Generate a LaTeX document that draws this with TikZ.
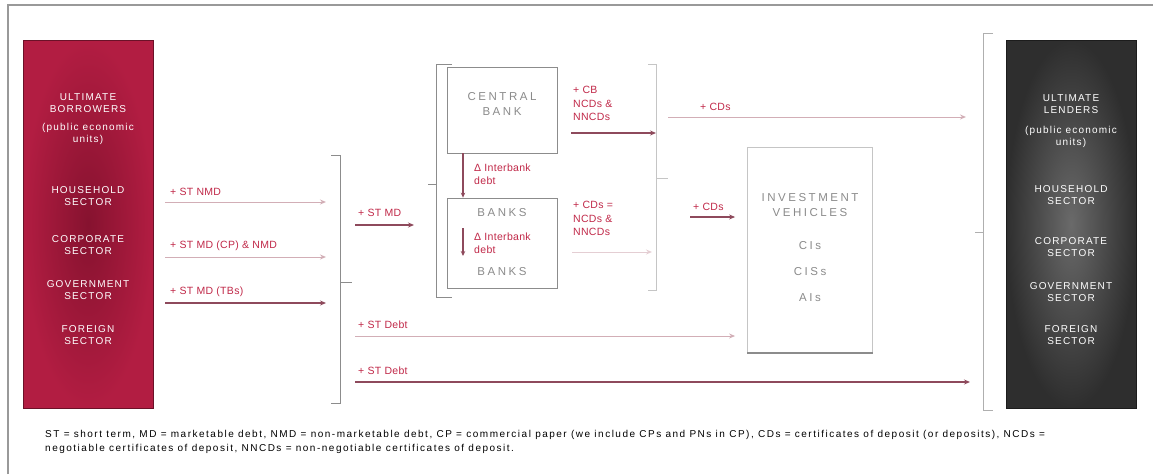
\documentclass[tikz,border=0pt]{standalone}
\usepackage{fontspec}
\setmainfont{Liberation Sans}
\usetikzlibrary{arrows.meta}
\definecolor{crimO}{HTML}{B21D42}
\definecolor{crimI}{HTML}{86122F}
\definecolor{grayO}{HTML}{2E2E2E}
\definecolor{grayI}{HTML}{6A6A6A}
\definecolor{flow}{HTML}{8E4A5C}
\definecolor{flowlt}{HTML}{D2AEB6}
\definecolor{lab}{HTML}{C02848}
\definecolor{boxtxt}{HTML}{8A8A8A}
\definecolor{brk}{HTML}{8C8C8C}
\tikzset{
  sectorbox/.style={draw=#1!60!black, line width=1pt, minimum width=130, minimum height=368, inner sep=0pt},
  white txt/.style={text=white, font=\fontsize{10}{11.5}\selectfont\addfontfeatures{LetterSpace=12}, align=center, inner sep=0pt},
  instbox/.style={draw=brk, line width=0.8pt, minimum width=110, minimum height=88, inner sep=0pt},
  graytxt/.style={text=boxtxt, font=\fontsize{11.5}{14.5}\selectfont\addfontfeatures{LetterSpace=22}, align=center, inner sep=0pt},
  labtxt/.style={text=lab, font=\fontsize{10.5}{13.5}\selectfont\addfontfeatures{LetterSpace=3}, align=left, inner sep=0pt, anchor=south west},
  flowarrow/.style={draw=flow, line width=1.3pt, -{Stealth[length=6pt,width=5pt]}},
  lightarrow/.style={draw=flowlt, line width=1pt, -{Stealth[length=6pt,width=5pt,open]}},
  bracket/.style={draw=brk, line width=1pt},
  smallarrow/.style={draw=flow, line width=1.2pt, -{Stealth[length=5pt,width=4.5pt]}}
}
\begin{document}
\begin{tikzpicture}[x=1pt,y=-1pt]
\useasboundingbox (0,0) rectangle (1153,474);
% frame
\draw[draw=gray!80, line width=1.2pt] (8,474) -- (8,5) -- (1153,5);

% left sector box
\node[sectorbox=crimO, inner color=crimI, outer color=crimO] (left) at (88,224) {};
\node[white txt] (l1) at (88,103) {ULTIMATE\\BORROWERS};
\node[white txt] (l2) at (88,134) {(public economic\\units)};
\node[white txt] (l3) at (88,196) {HOUSEHOLD\\SECTOR};
\node[white txt] (l4) at (88,245) {CORPORATE\\SECTOR};
\node[white txt] (l5) at (88,290) {GOVERNMENT\\SECTOR};
\node[white txt] (l6) at (88,335) {FOREIGN\\SECTOR};

% right sector box
\node[sectorbox=grayO, inner color=grayI, outer color=grayO] (right) at (1071,224) {};
\node[white txt] (r1) at (1071,104) {ULTIMATE\\LENDERS};
\node[white txt] (r2) at (1071,137) {(public economic\\units)};
\node[white txt] (r3) at (1071,195) {HOUSEHOLD\\SECTOR};
\node[white txt] (r4) at (1071,247) {CORPORATE\\SECTOR};
\node[white txt] (r5) at (1071,292) {GOVERNMENT\\SECTOR};
\node[white txt] (r6) at (1071,335) {FOREIGN\\SECTOR};

% left-hand flows
\coordinate (a1s) at (165,202); \coordinate (a1e) at (326,202);
\coordinate (a2s) at (165,257); \coordinate (a2e) at (326,257);
\coordinate (a3s) at (165,303); \coordinate (a3e) at (326,303);
\draw[lightarrow] (a1s) -- (a1e);
\draw[lightarrow] (a2s) -- (a2e);
\draw[flowarrow] (a3s) -- (a3e);
\node[labtxt] (t1) at (170,196) {+ ST NMD};
\node[labtxt] (t2) at (170,251) {+ ST MD (CP) \& NMD};
\node[labtxt] (t3) at (170,297) {+ ST MD (TBs)};

% left bracket
\draw[bracket] (331,155) -- (340,155) -- (340,403) -- (331,403);
\draw[bracket] (340,282) -- (352,282);

% + ST MD into banking group
\coordinate (bms) at (355,225); \coordinate (bme) at (414,225);
\draw[flowarrow] (bms) -- (bme);
\node[labtxt] (t4) at (358,217) {+ ST MD};

% banking group bracket
\draw[bracket] (452,64) -- (436,64) -- (436,297) -- (452,297);
\draw[bracket] (436,184) -- (428,184);
\draw[bracket, draw=brk!50] (648,64) -- (656,64) -- (656,290) -- (648,290);
\draw[bracket, draw=brk!50] (656,178) -- (668,178);

% central bank and banks
\node[instbox, minimum height=86] (cb) at (502,110) {};
\node[graytxt] (cbt) at (502,104) {CENTRAL\\BANK};
\node[instbox, minimum height=90] (bk) at (502,243) {};
\node[graytxt] (bk1) at (502,213) {BANKS};
\node[graytxt] (bk2) at (502,272) {BANKS};
\draw[smallarrow] (cb.south -| 463,0) -- (bk.north -| 463,0);
\node[labtxt, anchor=west, align=left] (ib1) at (474,174) {Δ Interbank\\debt};
\draw[smallarrow] (463,228) -- (463,256);
\node[labtxt, anchor=west, align=left] (ib2) at (474,243) {Δ Interbank\\debt};

% CB to right
\coordinate (cbe) at (656,133);
\draw[flowarrow] (cb.east |- cbe) ++(14,0) -- (cbe);
\node[labtxt, anchor=north west] (t5) at (573,86) {+ CB\\NCDs \&\\NNCDs};
% Banks to right
\coordinate (bks) at (572,252); \coordinate (bke) at (652,252);
\draw[lightarrow, draw=flowlt!60] (bks) -- (bke);
\node[labtxt, anchor=north west] (t6) at (573,201) {+ CDs =\\NCDs \&\\NNCDs};

% + CDs long line
\coordinate (cds) at (668,117); \coordinate (cde) at (966,117);
\draw[lightarrow] (cds) -- (cde);
\node[labtxt] (t7) at (700,111) {+ CDs};

% investment vehicles
\node[draw=brk!50, line width=0.8pt, minimum width=125, minimum height=205, inner sep=0pt] (iv) at (810,250) {};
\draw[draw=brk, line width=1.5pt] (iv.south west) -- (iv.south east);
\node[graytxt] (ivt) at (810,205) {INVESTMENT\\VEHICLES};
\node[graytxt] (iv1) at (810,246) {CIs};
\node[graytxt] (iv2) at (810,272) {CISs};
\node[graytxt] (iv3) at (810,298) {AIs};
\coordinate (ivs) at (690,217);
\draw[flowarrow] (ivs) -- ([xshift=-12pt]iv.west |- ivs);
\node[labtxt] (t8) at (693,211) {+ CDs};

% ST Debt lines
\coordinate (sd1s) at (355,336);
\draw[lightarrow] (sd1s) -- ([xshift=-12pt]iv.west |- sd1s);
\node[labtxt] (t9) at (358,329) {+ ST Debt};
\coordinate (sd2s) at (355,382); \coordinate (sd2e) at (970,382);
\draw[flowarrow] (sd2s) -- (sd2e);
\node[labtxt] (t10) at (358,375) {+ ST Debt};

% right bracket
\draw[bracket, draw=brk!70] (993,33) -- (983,33) -- (983,410) -- (993,410);
\draw[bracket, draw=brk!70] (983,232) -- (975,232);

% footnote
\node[anchor=north west, inner sep=0pt, align=left, font=\fontsize{10}{14}\selectfont\addfontfeatures{LetterSpace=15}] (fn) at (45,430) {ST = short term, MD = marketable debt, NMD = non-marketable debt, CP = commercial paper (we include CPs and PNs in CP), CDs = certificates of deposit (or deposits), NCDs =\\negotiable certificates of deposit, NNCDs = non-negotiable certificates of deposit.};
\end{tikzpicture}
\end{document}
